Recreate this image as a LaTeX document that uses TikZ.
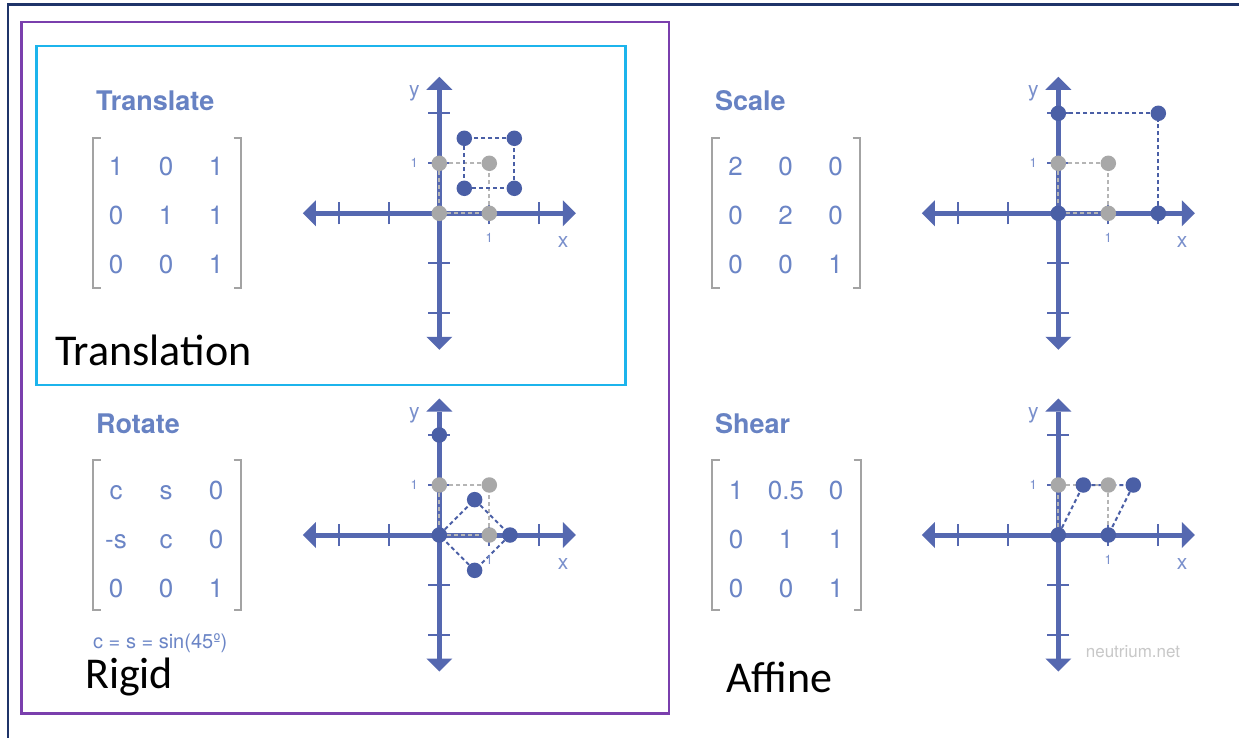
\documentclass[tikz,border=0pt]{standalone}
\usepackage{fontspec}
\setmainfont{TeX Gyre Heros}
\newfontfamily\groupfont{Carlito}
\usetikzlibrary{arrows.meta,matrix}

\definecolor{axisblue}{HTML}{5568B0}
\definecolor{dotblue}{HTML}{4A5FA6}
\definecolor{textblue}{HTML}{6B85C6}
\definecolor{titleblue}{HTML}{6782C3}
\definecolor{labelblue}{HTML}{7A90CC}
\definecolor{dotgray}{HTML}{A8A8A8}
\definecolor{bracketgray}{HTML}{A3A3A3}
\definecolor{framenavy}{HTML}{1F3469}
\definecolor{framepurple}{HTML}{7A3FAD}
\definecolor{framecyan}{HTML}{1CB4EC}
\definecolor{markgray}{HTML}{C8C8C8}

\pgfdeclarelayer{paper}
\pgfdeclarelayer{axes}
\pgfdeclarelayer{guides}
\pgfsetlayers{paper,axes,guides,main}

% one set of axes with ticks and labels, drawn in panel units
\newcommand\panelaxes[1]{%
  \begin{pgfonlayer}{axes}
    \draw[axisline] (-2.73,0) -- (2.73,0);
    \draw[axisline] (0,-2.73) -- (0,2.73);
    \foreach \t in {-2,-1,1,2} {
      \draw[axtick] (\t,-0.22) -- (\t,0.22);
      \draw[axtick] (-0.22,\t) -- (0.22,\t);
    }
  \end{pgfonlayer}
  \node[axname] (#1-ylab) at (-0.5,2.4) {y};
  \node[axname] (#1-xlab) at (2.475,-0.575) {x};
  \node[axunit] (#1-xone) at (1,-0.5) {1};
  \node[axunit] (#1-yone) at (-0.5,1) {1};
}

\begin{document}
\begin{tikzpicture}[x=1pt,y=-1pt,
  axisline/.style={draw=axisblue, line width=5pt,
    {Triangle[width=26pt,length=13pt,line width=0pt]}-{Triangle[width=26pt,length=13pt,line width=0pt]}},
  axtick/.style={draw=axisblue, line width=2.3pt},
  axname/.style={font=\fontsize{21}{24}\selectfont, text=labelblue, inner sep=0pt},
  axunit/.style={font=\fontsize{13}{15}\selectfont, text=labelblue, inner sep=0pt},
  bdot/.style={circle, fill=dotblue, inner sep=0pt, minimum size=15.5pt},
  gdot/.style={circle, fill=dotgray, inner sep=0pt, minimum size=15.5pt},
  bdash/.style={draw=dotblue, line width=2pt, dash pattern=on 4pt off 3pt},
  gdash/.style={draw=dotgray!85, line width=2pt, dash pattern=on 4pt off 3pt},
  titletext/.style={font=\fontsize{27}{32}\selectfont\bfseries, text=titleblue, inner sep=0pt, anchor=base west},
  entry/.style={font=\fontsize{26}{30}\selectfont, text=textblue, inner sep=0pt,
    minimum width=50pt, minimum height=49pt, text height=19pt, text depth=0pt},
  entrygrid/.style={matrix of nodes, nodes={entry}, inner sep=0pt, column sep=0pt, row sep=0pt},
  bracket/.style={draw=bracketgray, line width=2.6pt},
  grouptext/.style={font=\groupfont\fontsize{44}{52}\selectfont, text=black, inner sep=0pt, anchor=base west},
  frame/.style={line width=2.6pt}
]
\useasboundingbox (0,0) rectangle (1239,738);
\begin{pgfonlayer}{paper}
  \fill[white] (0,0) rectangle (1239,738);
\end{pgfonlayer}

% outer page frame, running off the right and bottom edges
\draw[framenavy, line width=2.2pt] (7.7,745) -- (7.7,4.5) -- (1245,4.5);
% rigid group and the translation group inside it
\draw[frame, framepurple] (21.7,22) rectangle (669,713.5);
\draw[frame, framecyan] (36.5,46) rectangle (625.5,384.8);

% ---------- Translate ----------
\node[titletext] (ttitle) at (96,110.5) {Translate};
\matrix (tmat) [entrygrid] at (166,215) {1 & 0 & 1\\ 0 & 1 & 1\\ 0 & 0 & 1\\};
\draw[bracket] (100.5,138) -- (93,138) -- (93,288) -- (100.5,288);
\draw[bracket] (233.5,138) -- (241,138) -- (241,288) -- (233.5,288);
\begin{scope}[shift={(439.3,213.3)}, x=50pt, y=50pt]
  \panelaxes{ta}
  \node[gdot] (tg00) at (0,0) {};
  \node[gdot] (tg10) at (1,0) {};
  \node[gdot] (tg11) at (1,1) {};
  \node[gdot] (tg01) at (0,1) {};
  \node[bdot] (tb00) at (0.5,0.5) {};
  \node[bdot] (tb10) at (1.5,0.5) {};
  \node[bdot] (tb11) at (1.5,1.5) {};
  \node[bdot] (tb01) at (0.5,1.5) {};
  \begin{pgfonlayer}{guides}
    \draw[gdash] (tg00) -- (tg10) -- (tg11) -- (tg01) -- (tg00);
    \draw[bdash] (tb00) -- (tb10) -- (tb11) -- (tb01) -- (tb00);
  \end{pgfonlayer}
\end{scope}
\node[grouptext] (translation) at (55,365) {Translation};

% ---------- Rotate ----------
\node[titletext] (rtitle) at (96,433) {Rotate};
\matrix (rmat) [entrygrid] at (166,538.5) {c & s & 0\\ -s & c & 0\\ 0 & 0 & 1\\};
\draw[bracket] (100.5,460) -- (93,460) -- (93,610) -- (100.5,610);
\draw[bracket] (233.5,460) -- (241,460) -- (241,610) -- (233.5,610);
\node[font=\fontsize{20}{24}\selectfont, text=textblue, inner sep=0pt, anchor=base west]
  (rnote) at (93,648) {c = s = sin(45º)};
\begin{scope}[shift={(439.3,535)}, x=50pt, y=50pt]
  \panelaxes{ra}
  \node[gdot] (rg10) at (1,0) {};
  \node[gdot] (rg11) at (1,1) {};
  \node[gdot] (rg01) at (0,1) {};
  \node[bdot] (rb00) at (0,0) {};
  \node[bdot] (rb10) at (0.707,0.707) {};
  \node[bdot] (rb11) at (1.414,0) {};
  \node[bdot] (rb01) at (0.707,-0.707) {};
  \node[bdot] (rbtop) at (0,2) {};
  \begin{pgfonlayer}{guides}
    \draw[gdash] (rb00) -- (rg10) -- (rg11) -- (rg01) -- (rb00);
    \draw[bdash] (rb00) -- (rb10) -- (rb11) -- (rb01) -- (rb00);
  \end{pgfonlayer}
\end{scope}
\node[grouptext] (rigid) at (85,688) {Rigid};

% ---------- Scale ----------
\node[titletext] (stitle) at (715,110.5) {Scale};
\matrix (smat) [entrygrid] at (785.5,215) {2 & 0 & 0\\ 0 & 2 & 0\\ 0 & 0 & 1\\};
\draw[bracket] (719.5,138) -- (712,138) -- (712,288) -- (719.5,288);
\draw[bracket] (852.5,138) -- (860,138) -- (860,288) -- (852.5,288);
\begin{scope}[shift={(1058.3,213.3)}, x=50pt, y=50pt]
  \panelaxes{sa}
  \node[gdot] (sg10) at (1,0) {};
  \node[gdot] (sg11) at (1,1) {};
  \node[gdot] (sg01) at (0,1) {};
  \node[bdot] (sb00) at (0,0) {};
  \node[bdot] (sb10) at (2,0) {};
  \node[bdot] (sb11) at (2,2) {};
  \node[bdot] (sb01) at (0,2) {};
  \begin{pgfonlayer}{guides}
    \draw[gdash] (sb00) -- (sg10) -- (sg11) -- (sg01) -- (sb00);
    \draw[bdash] (sb10) -- (sb11) -- (sb01);
  \end{pgfonlayer}
\end{scope}

% ---------- Shear ----------
\node[titletext] (htitle) at (715,433) {Shear};
\matrix (hmat) [entrygrid] at (786,538.5) {1 & 0.5 & 0\\ 0 & 1 & 1\\ 0 & 0 & 1\\};
\draw[bracket] (719.5,460) -- (712,460) -- (712,610) -- (719.5,610);
\draw[bracket] (853.5,460) -- (861,460) -- (861,610) -- (853.5,610);
\begin{scope}[shift={(1058.3,535)}, x=50pt, y=50pt]
  \panelaxes{ha}
  \node[gdot] (hg01) at (0,1) {};
  \node[gdot] (hg11) at (1,1) {};
  \node[bdot] (hb00) at (0,0) {};
  \node[bdot] (hb10) at (1,0) {};
  \node[bdot] (hb01) at (0.5,1) {};
  \node[bdot] (hb11) at (1.5,1) {};
  \begin{pgfonlayer}{guides}
    \draw[gdash] (hb00) -- (hg01) -- (hg11) -- (hb10);
    \draw[bdash] (hb00) -- (hb01) -- (hb11) -- (hb10);
  \end{pgfonlayer}
\end{scope}
\node[font=\fontsize{17}{20}\selectfont, text=markgray, inner sep=0pt] (credit) at (1133,652) {neutrium.net};
\node[grouptext] (affine) at (726,692) {Affine};
\end{tikzpicture}
\end{document}
